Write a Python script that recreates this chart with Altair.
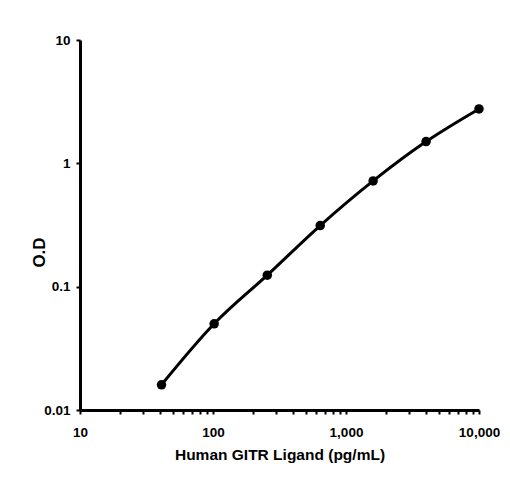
import altair as alt
import pandas as pd

# data
conc = [41, 102, 256, 640, 1600, 4000, 10000]
od = [0.016, 0.050, 0.124, 0.313, 0.72, 1.50, 2.76]

x_major = [10, 100, 1000, 10000]
x_minor = [20, 30, 40, 50, 60, 70, 80, 90,
           200, 300, 400, 500, 600, 700, 800, 900,
           2000, 3000, 4000, 5000, 6000, 7000, 8000, 9000]
y_ticks = [0.01, 0.1, 1, 10]

df = pd.DataFrame({"conc": conc, "od": od})

FONT = "Liberation Sans"

x_enc = alt.X(
    "conc:Q",
    scale=alt.Scale(type="log", domain=[10, 10000], nice=False),
    axis=alt.Axis(
        title="Human GITR Ligand (pg/mL)",
        values=sorted(x_major + x_minor),
        labelExpr="indexof([10,100,1000,10000], datum.value) >= 0 ? format(datum.value, ',') : ''",
        labelOverlap=False,
        labelFlush=False,
        grid=False,
        domainWidth=3,
        domainColor="black",
        tickColor="black",
        tickWidth=2,
        tickSize=4,
        labelPadding=11,
        labelFont=FONT,
        labelFontSize=13.5,
        labelFontWeight="bold",
        labelColor="black",
        titleFont=FONT,
        titleFontSize=15.5,
        titleFontWeight="bold",
        titleColor="black",
        titlePadding=9,
    ),
)

y_enc = alt.Y(
    "od:Q",
    scale=alt.Scale(type="log", domain=[0.01, 10], nice=False),
    axis=alt.Axis(
        title="O.D",
        values=y_ticks,
        format="~g",
        labelOverlap=False,
        labelFlush=False,
        grid=False,
        domainWidth=3,
        domainColor="black",
        tickColor="black",
        tickWidth=2,
        tickSize=4,
        labelPadding=6,
        labelFont=FONT,
        labelFontSize=13.5,
        labelFontWeight="bold",
        labelColor="black",
        titleFont=FONT,
        titleFontSize=17,
        titleFontWeight="bold",
        titleColor="black",
        titleY=212,
        titleX=-32,
    ),
)

base = alt.Chart(df).encode(x=x_enc, y=y_enc)

line = base.mark_line(color="black", strokeWidth=3, interpolate="monotone")
pts = base.mark_point(filled=True, color="black", size=90, opacity=1)

chart = (
    alt.layer(line, pts)
    .properties(
        width=399,
        height=370,
        autosize=alt.AutoSizeParams(type="none"),
        padding={"left": 72, "top": 32, "right": 23, "bottom": 75},
        background="white",
    )
    .configure_view(stroke=None)
)

chart.save("out.html", embed_options={"renderer": "svg", "actions": False})
